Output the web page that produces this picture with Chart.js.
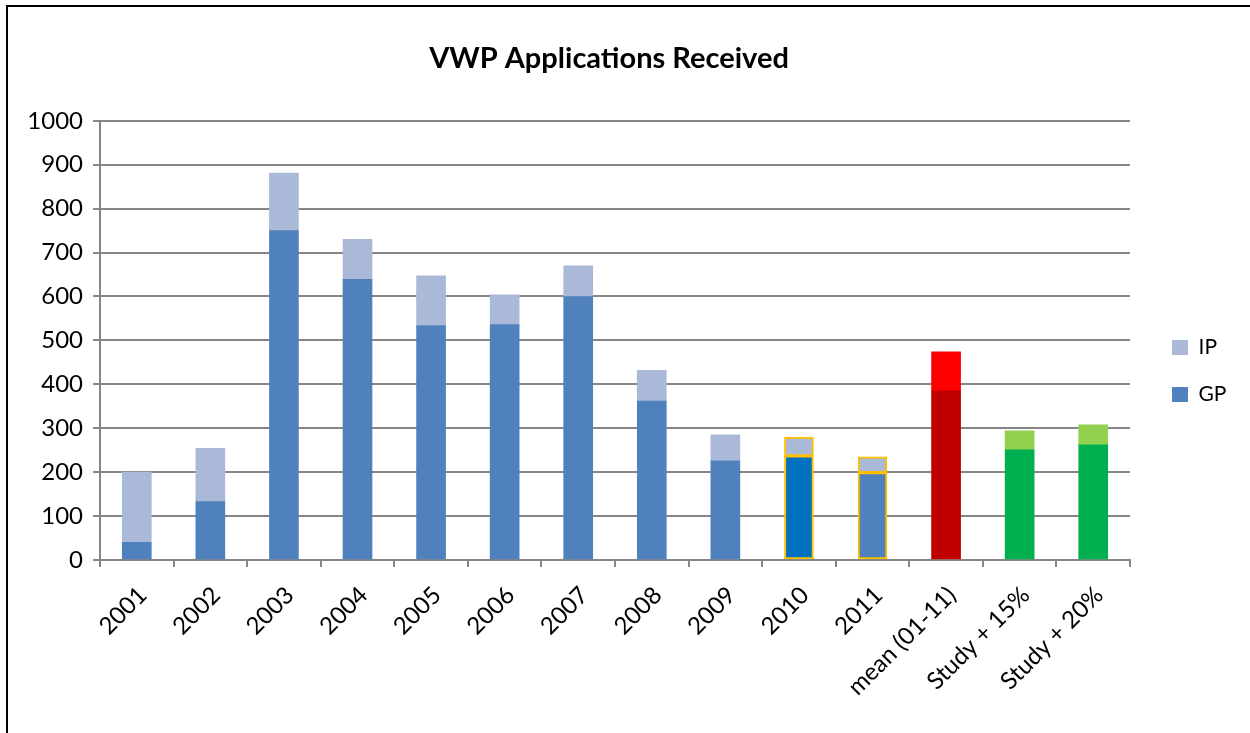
<!DOCTYPE html>
<html>
<head>
<meta charset="utf-8">
<script src="https://cdn.jsdelivr.net/npm/chart.js@4.4.1/dist/chart.umd.min.js"></script>
<style>
  html, body { margin: 0; padding: 0; background: #fff; }
  #wrap { position: relative; width: 1250px; height: 733px; overflow: hidden; }
  #frame { position: absolute; left: 6px; top: 5px; width: 1400px; height: 900px;
           border-left: 2px solid #000; border-top: 2px solid #000; pointer-events: none; }
  canvas { position: absolute; left: 0; top: 0; }
</style>
</head>
<body>
<div id="wrap">
  <canvas id="c" width="1250" height="733"></canvas>
  <div id="frame"></div>
</div>
<script>
const TITLE = 'VWP Applications Received';
const categories = ['2001','2002','2003','2004','2005','2006','2007','2008','2009','2010','2011','mean (01-11)','Study + 15%','Study + 20%'];
const gpValues = [40, 133, 750, 639, 534, 536, 600, 362, 226, 237, 199, 385, 251, 262];
const ipValues = [160, 121, 131, 91, 113, 68, 70, 70, 59, 43, 36, 89, 43, 46];
const yTicks = { min: 0, max: 1000, step: 100 };
const seriesNames = ['GP', 'IP'];

const GP_COLOR = '#4F81BD', IP_COLOR = '#AAB9D7';
const gpColors = categories.map((c, i) => i === 9 ? '#0070C0' : i === 11 ? '#C00000' : i >= 12 ? '#00B050' : GP_COLOR);
const ipColors = categories.map((c, i) => i === 11 ? '#FF0000' : i >= 12 ? '#92D050' : IP_COLOR);
const borderCols = categories.map((c, i) => (i === 9 || i === 10) ? '#FFC000' : 'rgba(0,0,0,0)');
const borderWs = categories.map((c, i) => (i === 9 || i === 10) ? 2 : 0);

const FONT = 'Lato, "Open Sans", sans-serif';

const positionFix = {
  id: 'positionFix',
  afterInit(chart) {
    const lg = chart.legend;
    const origFit = lg.fit.bind(lg);
    lg.fit = function () { origFit(); this.width = 120; };
  },
  afterLayout(chart) {
    const t = chart.titleBlock;
    t.left = 8; t.right = 1210; t.width = 1202;
    const lg = chart.legend;
    lg.left = 1146; lg.right = 1250; lg.top = 311;
  }
};

new Chart(document.getElementById('c'), {
  type: 'bar',
  data: {
    labels: categories,
    datasets: [
      { label: seriesNames[0], data: gpValues, backgroundColor: gpColors, borderColor: borderCols, borderWidth: borderWs, borderSkipped: false, stack: 's' },
      { label: seriesNames[1], data: ipValues, backgroundColor: ipColors, borderColor: borderCols, borderWidth: borderWs, borderSkipped: false, stack: 's' }
    ]
  },
  options: {
    responsive: false,
    animation: false,
    devicePixelRatio: 1,
    layout: { padding: { left: 8, right: 0, top: 0, bottom: 0 } },
    datasets: { bar: { barThickness: 29 } },
    plugins: {
      title: {
        display: true, text: TITLE, color: '#000',
        font: { family: FONT, size: 29, weight: 'bold' },
        padding: { top: 41, bottom: 45 }
      },
      legend: {
        display: true, position: 'right', align: 'start',
        labels: {
          color: '#000', font: { family: FONT, size: 21 }, boxWidth: 16, boxHeight: 15, padding: 26,
          generateLabels: () => [
            { text: 'IP', fillStyle: IP_COLOR, strokeStyle: IP_COLOR, lineWidth: 0, datasetIndex: 1 },
            { text: 'GP', fillStyle: GP_COLOR, strokeStyle: GP_COLOR, lineWidth: 0, datasetIndex: 0 }
          ]
        }
      },
      tooltip: { enabled: false }
    },
    scales: {
      x: {
        stacked: true,
        grid: { display: true, drawOnChartArea: false, drawTicks: true, tickLength: 7, color: '#868686', lineWidth: 2, offset: true },
        border: { display: true, color: '#868686', width: 2 },
        ticks: { color: '#000', font: { family: FONT, size: 24 }, minRotation: 45, maxRotation: 45, autoSkip: false, padding: 14, labelOffset: 6 },
        afterFit(s) { s.height = 173; }
      },
      y: {
        stacked: true,
        min: yTicks.min, max: yTicks.max,
        grid: { color: '#868686', lineWidth: 2, tickLength: 7 },
        border: { display: true, color: '#868686', width: 2 },
        ticks: { stepSize: yTicks.step, color: '#000', font: { family: FONT, size: 24 }, padding: 10,
                 callback: (v) => String(v) },
        afterFit(s) { s.width = 92; }
      }
    }
  },
  plugins: [positionFix]
});
</script>
</body>
</html>
